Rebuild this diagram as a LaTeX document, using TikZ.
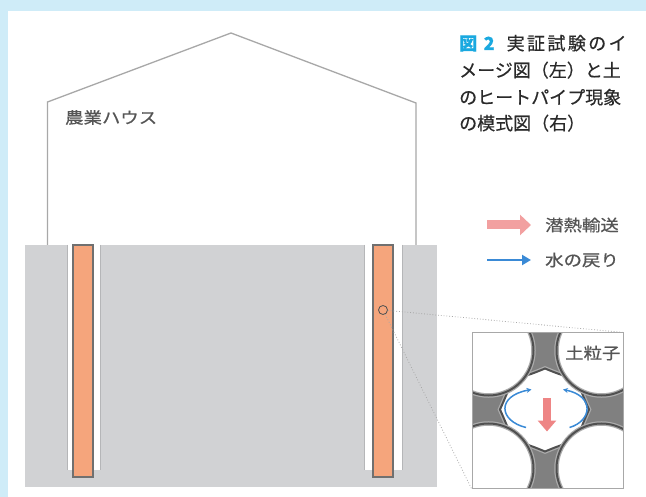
\documentclass[tikz,border=0pt]{standalone}
\usepackage{fontspec}
\usepackage{graphicx}
\usetikzlibrary{arrows.meta}
\newfontfamily\jp{Noto Sans CJK JP}[FakeBold=0.4]
\newfontfamily\jplbl{Noto Sans CJK JP}[FakeBold=0.6]

\definecolor{bgblue}{HTML}{CFECF8}
\definecolor{ground}{HTML}{D1D2D4}
\definecolor{houseline}{HTML}{A8A8A8}
\definecolor{pipefill}{HTML}{F5A57C}
\definecolor{pipeline}{HTML}{707070}
\definecolor{slotline}{HTML}{B5B6B8}
\definecolor{figcyan}{HTML}{1AA9E0}
\definecolor{titletext}{HTML}{2A2A2A}
\definecolor{labeltext}{HTML}{555555}
\definecolor{neckgray}{HTML}{808080}
\definecolor{grainedge}{HTML}{505050}
\definecolor{grainhalo}{HTML}{ABABAB}
\definecolor{heatpink}{HTML}{F2A0A0}
\definecolor{heatred}{HTML}{EE8585}
\definecolor{waterblue}{HTML}{3A8AD6}

\newcommand{\lbl}[1]{\scalebox{1.15}[1]{\jplbl\fontsize{16}{16}\selectfont #1}}
\newcommand{\gap}{\hspace{2.4pt}}
\newcommand{\porepath}{(0,-41) .. controls (40,-24) and (26,-40) .. (44,0)
  .. controls (26,40) and (40,25) .. (0,42)
  .. controls (-40,25) and (-27,40) .. (-45,0)
  .. controls (-27,-40) and (-40,-24) .. cycle}

\begin{document}
\begin{tikzpicture}[x=1pt,y=-1pt,
  title/.style={font=\jp\fontsize{18}{18}\selectfont, text=titletext, inner sep=0pt, anchor=base west},
  label/.style={text=labeltext, inner sep=0pt, anchor=west},
  house/.style={draw=houseline, line width=1.3pt, line join=miter},
  slotside/.style={draw=slotline, line width=0.9pt},
  pipe/.style={fill=pipefill, draw=pipeline, line width=1.2pt},
  probe/.style={circle, draw=grainedge, line width=0.8pt, minimum size=9pt, inner sep=0pt},
  zbox/.style={draw=houseline, line width=1pt, minimum width=151pt, minimum height=155pt, inner sep=0pt},
  zoomline/.style={draw=houseline, dotted, line width=0.8pt},
  halo/.style={draw=grainhalo, line width=4.5pt},
  edge/.style={draw=grainedge, line width=2pt},
  water/.style={draw=waterblue, line width=1.5pt, -{Stealth[length=5pt,width=5pt]}}
]
\useasboundingbox (0,0) rectangle (646,497);

% page background with the light blue margin
\fill[bgblue] (0,0) rectangle (646,497);
\fill[white] (8,11) rectangle (646,497);

% ground
\fill[ground] (25,245) rectangle (437,487);

% greenhouse outline
\coordinate (wallL) at (47.5,245);
\coordinate (eaveL) at (47.5,102);
\coordinate (apex)  at (231,33);
\coordinate (eaveR) at (416,103);
\coordinate (wallR) at (416,245);
\draw[house] (wallL) -- (eaveL) -- (apex) -- (eaveR) -- (wallR);
\node[label] (houselbl) at (65,117.5) {\lbl{農業ハウス}};

% boreholes with heat pipes
\fill[white] (67,245) rectangle (100,470);
\draw[slotside] (67,245) -- (67,470) (100,245) -- (100,470);
\draw[pipe] (73,245) rectangle (93,477);

\fill[white] (364,245) rectangle (402,470);
\draw[slotside] (364,245) -- (364,470) (402,245) -- (402,470);
\draw[pipe] (373,245) rectangle (393,477);

% magnified soil: water necks, the air pore, then the four grains on top
\begin{scope}
  \clip (472,333) rectangle (623,488);
  \fill[neckgray] (472,333) rectangle (623,488);
  \begin{scope}[shift={(545,409.5)}]
    \path[fill=white, halo] \porepath;
    \path[fill=white, edge] \porepath;
    \foreach \dx/\dy in {-56.5/-59, 56.5/-59, -56.5/59, 56.5/59} {
      \fill[white] (\dx,\dy) circle (45);
    }
    \foreach \dx/\dy in {-56.5/-59, 56.5/-59, -56.5/59, 56.5/59} {
      \draw[halo] (\dx,\dy) circle (45);
      \draw[edge] (\dx,\dy) circle (45);
    }
  \end{scope}
\end{scope}
\node[zbox] (zbox) at (547.5,410.5) {};
\node[label] (grainlbl) at (565,353) {\lbl{土粒子}};

% latent heat moves down, water returns along the grains
\coordinate (heatTop) at (547,398.5);
\coordinate (heatTip) at (547,431.5);
\draw[heatred, line width=8pt, -{Triangle[length=11pt,width=18pt]}] (heatTop) -- (heatTip);
\coordinate (wLs) at (526,427.5);
\coordinate (wLe) at (531.5,389.5);
\coordinate (wRs) at (569.5,427.5);
\coordinate (wRe) at (563,389.5);
\draw[water] (wLs) .. controls (499,421) and (496,396) .. (wLe);
\draw[water] (wRs) .. controls (592,421) and (595,396) .. (wRe);

% probe spot on the pipe and its zoom lines
\node[probe] (probe) at (383,310) {};
\draw[zoomline] (probe) -- (zbox.north east);
\draw[zoomline] (probe) -- (zbox.south west);

% legend
\coordinate (lg1a) at (487,225);
\coordinate (lg1b) at (531,225);
\coordinate (lg2a) at (487,260);
\coordinate (lg2b) at (531,260);
\draw[heatpink, line width=9pt, -{Triangle[length=11pt,width=20pt]}] (lg1a) -- (lg1b);
\draw[waterblue, line width=2.5pt, -{Triangle[length=9pt,width=10pt]}] (lg2a) -- (lg2b);
\node[label] (lgheat) at (545,225) {\lbl{潜熱輸送}};
\node[label] (lgwater) at (545,260) {\lbl{水の戻り}};

% caption
\node[title] (cap1) at (459,50) {{\color{figcyan}\bfseries 図\hspace{6.5pt}2}\hspace{12pt}実\gap 証\gap 試\gap 験\gap の\gap イ};
\node[title] (cap2) at (459,77) {メージ図（左）と土};
\node[title] (cap3) at (459,104) {のヒートパイプ現象};
\node[title] (cap4) at (459,130) {の模式図（右）};
\end{tikzpicture}
\end{document}
